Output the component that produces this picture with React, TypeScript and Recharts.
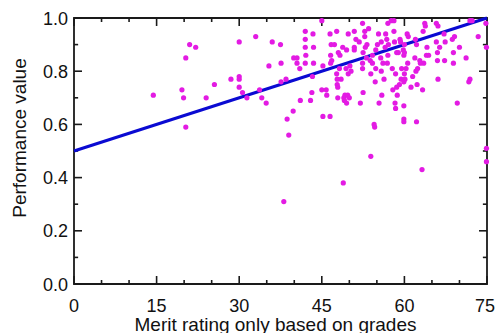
import React from 'react';
import {
  ComposedChart,
  Scatter,
  Line,
  XAxis,
  YAxis,
  ReferenceArea,
  ReferenceLine,
} from 'recharts';

// merit rating (x) and performance value (y)
const meritX = [
  14.4, 19.6, 19.9, 20.3, 20.3, 21.0, 22.1, 24.0, 25.5, 28.5,
  30.0, 30.0, 30.0, 30.0, 30.6, 31.4, 33.0, 33.7, 34.1, 34.9,
  35.4, 36.0, 37.5, 37.6, 37.6, 38.1, 38.5, 38.7, 39.0, 39.8,
  39.9, 40.5, 40.5, 41.0, 41.1, 42.0, 42.0, 42.0, 42.1, 42.0,
  42.95, 43.2, 43.3, 43.4, 43.5, 43.5, 45.0, 45.0, 45.2, 45.2,
  45.8, 45.9, 46.5, 46.5, 46.6, 46.6, 46.7, 46.8, 47.3, 47.7,
  47.7, 47.8, 47.8, 47.9, 47.9, 48.0, 48.2, 48.3, 48.5, 48.8,
  48.9, 49.0, 49.1, 49.2, 49.4, 49.5, 49.5, 49.7, 49.8, 49.8,
  50.0, 50.1, 50.3, 50.9, 50.9, 50.9, 51.2, 51.8, 52.0, 52.4,
  52.4, 52.4, 52.5, 52.5, 52.8, 52.8, 52.9, 53.1, 53.2, 53.5,
  53.8, 53.9, 53.9, 54.2, 54.2, 54.5, 54.6, 54.7, 54.8, 54.8,
  55.1, 55.3, 55.4, 55.7, 55.8, 55.8, 55.9, 56.1, 56.3, 56.5,
  56.6, 56.8, 56.9, 57.0, 57.0, 57.1, 57.6, 57.8, 57.9, 58.1,
  58.1, 58.2, 58.3, 58.4, 58.4, 58.6, 58.6, 58.7, 58.9, 59.1,
  59.2, 59.3, 59.4, 59.5, 59.8, 59.9, 59.9, 59.9, 59.9, 59.9,
  60.0, 60.0, 60.0, 60.1, 60.3, 60.5, 60.6, 60.7, 61.2, 61.5,
  61.9, 62.0, 62.1, 62.2, 62.2, 62.3, 62.4, 62.8, 62.9, 63.2,
  63.3, 63.4, 63.5, 63.7, 63.8, 64.0, 64.1, 64.4, 65.8, 65.8,
  66.0, 66.0, 66.1, 66.1, 66.4, 67.2, 67.3, 67.4, 68.7, 68.9,
  68.9, 69.1, 69.6, 70.0, 71.2, 71.7, 71.9, 71.9, 72.3, 73.4,
  74.8, 74.9, 74.9, 74.9,
];

const performanceY = [
  0.71, 0.73, 0.70, 0.85, 0.59, 0.90, 0.89, 0.70, 0.75, 0.77,
  0.91, 0.78, 0.77, 0.74, 0.72, 0.70, 0.93, 0.73, 0.70, 0.68,
  0.82, 0.91, 0.90, 0.83, 0.76, 0.31, 0.77, 0.62, 0.56, 0.65,
  0.85, 0.85, 0.83, 0.81, 0.69, 0.95, 0.92, 0.89, 0.86, 0.83,
  0.69, 0.72, 0.78, 0.94, 0.89, 0.83, 0.99, 0.73, 0.63, 0.82,
  0.73, 0.71, 0.63, 0.94, 0.86, 0.83, 0.90, 0.84, 0.90, 0.95,
  0.79, 0.77, 0.75, 0.74, 0.70, 0.87, 0.81, 0.86, 0.77, 0.89,
  0.38, 0.70, 0.69, 0.71, 0.81, 0.88, 0.68, 0.71, 0.94, 0.79,
  0.70, 0.82, 0.80, 0.95, 0.89, 0.88, 0.92, 0.91, 0.68, 0.98,
  0.83, 0.81, 0.87, 0.72, 0.95, 0.93, 0.89, 0.85, 0.90, 0.96,
  0.84, 0.79, 0.48, 0.83, 0.86, 0.60, 0.59, 0.76, 0.88, 0.81,
  0.90, 0.94, 0.68, 0.85, 0.80, 0.91, 0.71, 0.83, 0.77, 0.89,
  0.94, 0.92, 0.83, 0.86, 0.98, 0.90, 0.99, 0.81, 0.73, 0.99,
  0.95, 0.91, 0.68, 0.66, 0.79, 0.87, 0.74, 0.71, 0.87, 0.75,
  0.92, 0.91, 0.77, 0.81, 0.88, 0.86, 0.76, 0.67, 0.62, 0.61,
  0.90, 0.87, 0.79, 0.77, 0.81, 0.94, 0.83, 0.93, 0.74, 0.78,
  0.85, 0.92, 0.80, 0.90, 0.61, 0.75, 0.81, 0.84, 0.83, 0.43,
  0.73, 0.95, 0.83, 0.98, 0.97, 0.86, 0.89, 0.86, 0.98, 0.91,
  0.87, 0.84, 0.77, 0.97, 0.89, 0.94, 0.84, 0.91, 0.92, 0.87,
  0.83, 0.93, 0.68, 0.89, 0.85, 0.76, 0.77, 0.99, 0.99, 0.93,
  0.98, 0.89, 0.51, 0.46,
];

// fitted line end points
const fitX = [0, 75];
const fitY = [0.5, 1.0];

const xTicks = [0, 5, 10, 15, 20, 25, 30, 35, 40, 45, 50, 55, 60, 65, 70, 75];
const yTicks = [0, 0.1, 0.2, 0.3, 0.4, 0.5, 0.6, 0.7, 0.8, 0.9, 1.0];

const points = meritX.map((x, i) => ({ x, y: performanceY[i] }));
const fitLine = fitX.map((x, i) => ({ x, fit: fitY[i] }));

const FONT = '"Liberation Sans", Arial, sans-serif';
const INK = '#1a1a1a';

const isMajorX = (v: number) => v % 15 === 0;
const isMajorY = (v: number) => Math.round(v * 10) % 2 === 0;

// inward tick lengths in data units (plot is ~413 x 266 px)
const xTickLen = (v: number) => (isMajorX(v) ? 0.03 : 0.015);
const yTickLen = (v: number) => (isMajorY(v) ? 1.45 : 0.75);

const BottomTick = (props: any) => {
  const { x, y, payload } = props;
  if (!isMajorX(payload.value)) return <g />;
  // last label sits a touch left so it stays inside the frame
  const shift = payload.value === 75 ? -2 : 0;
  return (
    <text x={x + shift} y={y + 28} textAnchor="middle" fontSize={18} fontFamily={FONT} fill="#111">
      {payload.value}
    </text>
  );
};

const LeftTick = (props: any) => {
  const { x, y, payload } = props;
  if (!isMajorY(payload.value)) return <g />;
  return (
    <text x={x - 6} y={y + 6.5} textAnchor="end" fontSize={18} fontFamily={FONT} fill="#111">
      {payload.value.toFixed(1)}
    </text>
  );
};

const Dot = (props: any) => <circle cx={props.cx} cy={props.cy} r={2.6} fill="#e31be3" />;

const App: React.FC = () => {
  return (
    <div style={{ position: 'absolute', left: 8, top: 8, width: 488, height: 325, background: '#fff' }}>
      <ComposedChart
        width={488}
        height={325}
        margin={{ top: 10, right: 9, bottom: 0, left: 0 }}
      >
        <XAxis
          type="number"
          dataKey="x"
          domain={[0, 75]}
          ticks={xTicks}
          interval={0}
          height={49}
          tickSize={0}
          tickLine={false}
          tickMargin={0}
          tick={<BottomTick />}
          axisLine={false}
          label={{
            value: 'Merit rating only based on grades',
            position: 'insideBottom',
            offset: 2,
            dx: -5,
            fontSize: 19,
            fontFamily: FONT,
            fill: '#111',
          }}
        />
        <YAxis
          type="number"
          domain={[0, 1]}
          ticks={yTicks}
          interval={0}
          width={66}
          tickSize={0}
          tickLine={false}
          tickMargin={0}
          tick={<LeftTick />}
          axisLine={false}
          label={{
            value: 'Performance value',
            angle: -90,
            position: 'insideLeft',
            offset: 11,
            dy: -13,
            fontSize: 19,
            fontFamily: FONT,
            fill: '#111',
            style: { textAnchor: 'middle' },
          }}
        />
        <ReferenceArea x1={0} x2={75} y1={0} y2={1} fill="none" stroke={INK} strokeWidth={1.8} />
        {xTicks.map((v) => (
          <ReferenceLine
            key={`b${v}`}
            segment={[{ x: v, y: 0 }, { x: v, y: xTickLen(v) }]}
            stroke={INK}
            strokeWidth={1.6}
          />
        ))}
        {xTicks.map((v) => (
          <ReferenceLine
            key={`t${v}`}
            segment={[{ x: v, y: 1 }, { x: v, y: 1 - xTickLen(v) }]}
            stroke={INK}
            strokeWidth={1.6}
          />
        ))}
        {yTicks.map((v) => (
          <ReferenceLine
            key={`l${v}`}
            segment={[{ x: 0, y: v }, { x: yTickLen(v), y: v }]}
            stroke={INK}
            strokeWidth={1.6}
          />
        ))}
        {yTicks.map((v) => (
          <ReferenceLine
            key={`r${v}`}
            segment={[{ x: 75, y: v }, { x: 75 - yTickLen(v), y: v }]}
            stroke={INK}
            strokeWidth={1.6}
          />
        ))}
        <Scatter
          data={points}
          dataKey="y"
          shape={<Dot />}
          isAnimationActive={false}
        />
        <Line
          data={fitLine}
          dataKey="fit"
          type="linear"
          stroke="#0a0ad2"
          strokeWidth={3}
          dot={false}
          activeDot={false}
          isAnimationActive={false}
        />
      </ComposedChart>
    </div>
  );
};

export default App;
